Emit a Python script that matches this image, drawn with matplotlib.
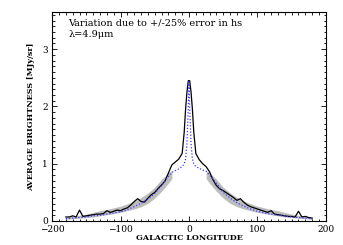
import matplotlib
matplotlib.use('Agg')
import matplotlib.pyplot as plt
from matplotlib.ticker import MultipleLocator

# observed profile (black)
obs_lon = [-180, -175, -170, -165, -160, -155, -150, -145, -140, -135, -130, -125,
           -120, -115, -110, -105, -100, -95, -90, -85, -80, -75, -70, -65, -60,
           -55, -50, -45, -40, -35, -30, -25, -20, -15, -10, -7, -5, -3, -1, 0,
           1, 3, 5, 7, 10, 15, 20, 25, 30, 35, 40, 45, 50, 55, 60, 65, 70, 75, 80,
           85, 90, 95, 100, 105, 110, 115, 120, 125, 130, 135, 140, 145, 150, 155,
           160, 165, 170, 175, 180]
obs_val = [0.07, 0.07, 0.09, 0.07, 0.19, 0.08, 0.09, 0.10, 0.11, 0.12, 0.12, 0.13,
           0.18, 0.15, 0.17, 0.19, 0.18, 0.21, 0.23, 0.28, 0.34, 0.39, 0.34, 0.33, 0.40,
           0.46, 0.50, 0.57, 0.63, 0.70, 0.84, 0.98, 1.03, 1.08, 1.18, 1.55, 1.95, 2.25, 2.45, 2.45,
           2.45, 2.25, 1.95, 1.55, 1.18, 1.07, 1.00, 0.95, 0.86, 0.72, 0.62, 0.56, 0.53, 0.49, 0.45, 0.41, 0.36, 0.39, 0.33,
           0.28, 0.25, 0.23, 0.21, 0.19, 0.17, 0.15, 0.18, 0.12, 0.11, 0.10, 0.09, 0.08, 0.08, 0.07,
           0.17, 0.07, 0.08, 0.06, 0.05]

# model (blue dotted)
mod_lon = [-180, -170, -160, -150, -140, -130, -120, -110, -100, -90, -80, -70, -60,
           -50, -40, -30, -25, -20, -15, -10, -7, -5, -3, -1, 0,
           1, 3, 5, 7, 10, 15, 20, 25, 30, 40, 50, 60, 70, 80, 90, 100, 110, 120,
           130, 140, 150, 160, 170, 180]
mod_val = [0.04, 0.05, 0.06, 0.07, 0.09, 0.10, 0.12, 0.14, 0.16, 0.20, 0.25, 0.31, 0.38,
           0.48, 0.62, 0.78, 0.85, 0.88, 0.91, 0.95, 1.00, 1.08, 1.35, 2.00, 2.43,
           2.00, 1.35, 1.08, 1.00, 0.95, 0.92, 0.89, 0.87, 0.80, 0.66, 0.50, 0.40, 0.32, 0.26, 0.21, 0.17, 0.14, 0.12,
           0.10, 0.09, 0.07, 0.06, 0.05, 0.04]

# +/-25% hs envelope (grey band)
band_lon = [-180, -170, -160, -150, -140, -130, -120, -110, -100, -90, -80, -70, -60,
            -50, -40, -30, -25, 25, 30, 40, 50, 60, 70, 80, 90, 100, 110, 120, 130,
            140, 150, 160, 170, 180]
band_lo = [0.03, 0.04, 0.05, 0.06, 0.07, 0.09, 0.11, 0.13, 0.15, 0.18, 0.21, 0.25, 0.31,
           0.40, 0.52, 0.66, 0.74, 0.74, 0.66, 0.52, 0.40, 0.31, 0.25, 0.21, 0.18, 0.15, 0.13, 0.11, 0.09,
           0.07, 0.06, 0.05, 0.04, 0.03]
band_hi = [0.07, 0.08, 0.10, 0.12, 0.15, 0.18, 0.20, 0.23, 0.26, 0.30, 0.35, 0.41, 0.49,
           0.59, 0.73, 0.84, 0.88, 0.88, 0.84, 0.73, 0.59, 0.49, 0.41, 0.35, 0.30, 0.26, 0.23, 0.20, 0.18,
           0.15, 0.12, 0.10, 0.08, 0.07]

SERIF = 'DejaVu Serif'

fig = plt.figure(figsize=(3.43, 2.45), dpi=100)
ax = fig.add_axes([0.152, 0.098, 0.798, 0.853])

# left and right wings of the band drawn separately
n = band_lon.index(-25) + 1
ax.fill_between(band_lon[:n], band_lo[:n], band_hi[:n], color='#bdbdbd', lw=0)
ax.fill_between(band_lon[n:], band_lo[n:], band_hi[n:], color='#bdbdbd', lw=0)
ax.plot(obs_lon, obs_val, color='black', lw=0.9)
ax.plot(mod_lon, mod_val, color='#3b3bff', lw=0.9, ls=(0, (1, 1.5)))

ax.set_xlim(-200, 200)
ax.set_ylim(0, 3.65)
ax.xaxis.set_major_locator(MultipleLocator(100))
ax.xaxis.set_minor_locator(MultipleLocator(10))
ax.yaxis.set_major_locator(MultipleLocator(1))
ax.yaxis.set_minor_locator(MultipleLocator(0.1))
ax.tick_params(which='both', direction='in', top=True, right=True, labelsize=6.5, width=0.6)
ax.tick_params(which='major', length=3.5)
ax.tick_params(which='minor', length=1.8)
ax.tick_params(axis='x', pad=3)
ax.tick_params(axis='y', pad=3)
for lbl in ax.get_xticklabels() + ax.get_yticklabels():
    lbl.set_family(SERIF)
for s in ax.spines.values():
    s.set_linewidth(0.8)

ax.set_xlabel('GALACTIC LONGITUDE', fontsize=5.8, family=SERIF, weight='bold', labelpad=0)
ax.set_ylabel('AVERAGE BRIGHTNESS [MJy/sr]', fontsize=5.8, family=SERIF, weight='bold', labelpad=5)

ax.text(0.06, 0.945, 'Variation due to +/-25% error in hs', transform=ax.transAxes,
        fontsize=7, family=SERIF, va='center', ha='left')
ax.text(0.06, 0.89, 'λ=4.9μm', transform=ax.transAxes,
        fontsize=7, family=SERIF, va='center', ha='left')

fig.savefig('out.png', dpi=100)
